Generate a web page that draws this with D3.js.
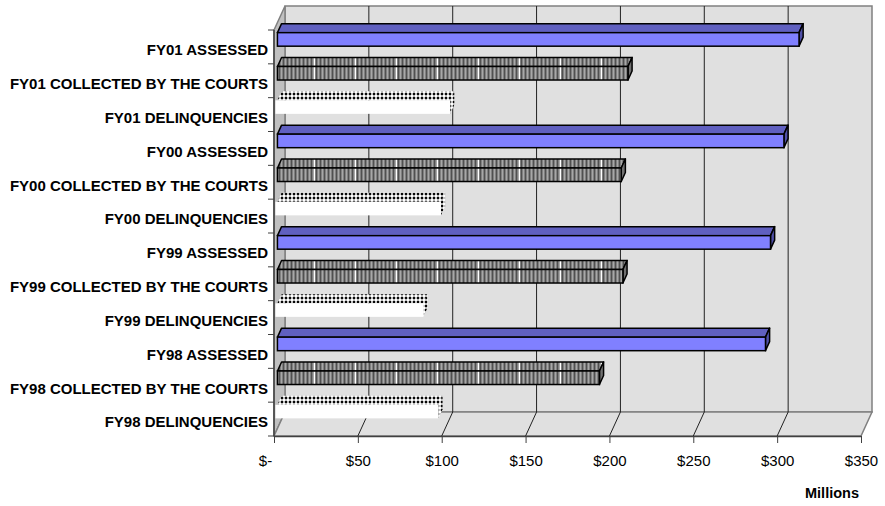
<!DOCTYPE html>
<html>
<head>
<meta charset="utf-8">
<script src="https://cdn.jsdelivr.net/npm/d3@7/dist/d3.min.js"></script>
<style>
body { margin: 0; background: #fff; }
svg { display: block; font-family: "Liberation Sans", Arial, sans-serif; }
</style>
</head>
<body>
<div id="chart"></div>
<script>
// data, $ millions
var categories = [
    "FY01 ASSESSED", "FY01 COLLECTED BY THE COURTS", "FY01 DELINQUENCIES",
    "FY00 ASSESSED", "FY00 COLLECTED BY THE COURTS", "FY00 DELINQUENCIES",
    "FY99 ASSESSED", "FY99 COLLECTED BY THE COURTS", "FY99 DELINQUENCIES",
    "FY98 ASSESSED", "FY98 COLLECTED BY THE COURTS", "FY98 DELINQUENCIES"
];
var values = [311, 209, 103, 302, 205, 97.5, 294, 206, 87, 291, 192, 96];
var kinds = ["assessed", "collected", "delinq",
             "assessed", "collected", "delinq",
             "assessed", "collected", "delinq",
             "assessed", "collected", "delinq"];
var xTicks = [0, 50, 100, 150, 200, 250, 300, 350];
var xTitle = "Millions";

var width = 885, height = 506;
var plot = { left: 274, right: 861, top: 30, bottom: 436 };
var depth = { dx: 11, dy: 24 };      // offset from front plane to back wall
var barDepth = [0.3125, 0.6875];     // bar sits in the middle of the depth

var svg = d3.select("#chart").append("svg")
    .attr("width", width)
    .attr("height", height);

var x = d3.scaleLinear().domain([0, 350]).range([plot.left, plot.right]);
var yCat = d3.scaleBand().domain(categories).range([plot.top, plot.bottom]);
var yBar = d3.scaleBand().domain(categories).range([plot.top, plot.bottom])
    .paddingInner(0.6).paddingOuter(0.3);

function proj(px, py, t) {
    return [px + t * depth.dx, py - t * depth.dy];
}
function poly(pts) {
    return pts.map(function (p) { return p[0] + "," + p[1]; }).join(" ");
}

// patterns
var defs = svg.append("defs");
var stripes = defs.append("pattern")
    .attr("id", "stripes")
    .attr("patternUnits", "userSpaceOnUse")
    .attr("x", 27).attr("width", 41).attr("height", 8);
stripes.append("rect").attr("width", 41).attr("height", 8).attr("fill", "#808080");
for (var s = 0; s < 41; s += 4) {
    stripes.append("rect").attr("x", s).attr("width", 1).attr("height", 8).attr("fill", "#a8a8a8");
    stripes.append("rect").attr("x", s + 2).attr("width", 1).attr("height", 8).attr("fill", "#505050");
}
stripes.append("rect").attr("x", 0).attr("width", 1).attr("height", 8).attr("fill", "#ffffff");

var dots = defs.append("pattern")
    .attr("id", "dots")
    .attr("patternUnits", "userSpaceOnUse")
    .attr("width", 4).attr("height", 4);
dots.append("rect").attr("width", 4).attr("height", 4).attr("fill", "#ffffff");
dots.append("polygon").attr("points", "2,0.3 3.7,2 2,3.7 0.3,2").attr("fill", "#000000");

// walls and floor
var backX0 = plot.left + depth.dx, backX1 = plot.right + depth.dx;
var backY0 = plot.top - depth.dy, backY1 = plot.bottom - depth.dy;

svg.append("rect")
    .attr("x", backX0).attr("y", backY0)
    .attr("width", backX1 - backX0).attr("height", backY1 - backY0)
    .attr("fill", "#e0e0e0").attr("stroke", "#808080").attr("stroke-width", 1.5);

svg.append("polygon")
    .attr("points", poly([[plot.left, plot.top], [backX0, backY0], [backX0, backY1], [plot.left, plot.bottom]]))
    .attr("fill", "#c0c0c0").attr("stroke", "#808080").attr("stroke-width", 1.5);

svg.append("polygon")
    .attr("points", poly([[plot.left, plot.bottom], [backX0, backY1], [backX1, backY1], [plot.right, plot.bottom]]))
    .attr("fill", "#e0e0e0").attr("stroke", "#808080").attr("stroke-width", 1.5);

// gridlines on back wall and floor
var inner = xTicks.slice(1, -1);
svg.selectAll(".grid").data(inner).enter().append("line")
    .attr("class", "grid")
    .attr("x1", function (d) { return x(d) + depth.dx; })
    .attr("x2", function (d) { return x(d) + depth.dx; })
    .attr("y1", backY0).attr("y2", backY1)
    .attr("stroke", "#222").attr("stroke-width", 1);

svg.selectAll(".floorgrid").data(inner).enter().append("line")
    .attr("class", "floorgrid")
    .attr("x1", function (d) { return x(d) + depth.dx; })
    .attr("y1", backY1)
    .attr("x2", function (d) { return x(d); })
    .attr("y2", plot.bottom)
    .attr("stroke", "#222").attr("stroke-width", 1);

// bars
var style = {
    assessed:  { front: "#8080ff", top: "#6060c0", end: "#5050a8", stroke: "#000" },
    collected: { front: "url(#stripes)", top: "url(#stripes)", end: "#707070", stroke: "#000" },
    delinq:    { front: "#ffffff", top: "url(#dots)", end: "url(#dots)", stroke: "none" }
};

categories.forEach(function (c, i) {
    var st = style[kinds[i]];
    var x0 = x(0), x1 = x(values[i]);
    var y0 = yBar(c), y1 = yBar(c) + yBar.bandwidth();
    var tf = barDepth[0], tb = barDepth[1];
    var g = svg.append("g").attr("class", "bar");

    g.append("polygon")
        .attr("points", poly([proj(x0, y0, tf), proj(x1, y0, tf), proj(x1, y0, tb), proj(x0, y0, tb)]))
        .attr("fill", st.top).attr("stroke", st.stroke).attr("stroke-width", 1.5)
        .attr("stroke-linejoin", "round");
    g.append("polygon")
        .attr("points", poly([proj(x1, y0, tf), proj(x1, y0, tb), proj(x1, y1, tb), proj(x1, y1, tf)]))
        .attr("fill", st.end).attr("stroke", st.stroke).attr("stroke-width", 1.5)
        .attr("stroke-linejoin", "round");
    var p = proj(kinds[i] == "delinq" ? x0 - 2 : x0, y0, tf);
    g.append("rect")
        .attr("x", p[0]).attr("y", p[1])
        .attr("width", proj(x1, y0, tf)[0] - p[0]).attr("height", y1 - y0)
        .attr("fill", st.front).attr("stroke", st.stroke).attr("stroke-width", 1.5);
});

// left axis
svg.append("line")
    .attr("x1", plot.left).attr("x2", plot.left)
    .attr("y1", plot.top).attr("y2", plot.bottom)
    .attr("stroke", "#404040").attr("stroke-width", 1.5);

var bounds = categories.map(function (c) { return yCat(c); }).concat([plot.bottom]);
svg.selectAll(".ytick").data(bounds).enter().append("line")
    .attr("class", "ytick")
    .attr("x1", plot.left - 6).attr("x2", plot.left)
    .attr("y1", function (d) { return d; }).attr("y2", function (d) { return d; })
    .attr("stroke", "#404040").attr("stroke-width", 1);

var yAxis = svg.append("g")
    .attr("transform", "translate(" + plot.left + ",3.5)")
    .call(d3.axisLeft(yCat).tickSize(0).tickPadding(6));
yAxis.select(".domain").remove();
yAxis.selectAll("text")
    .attr("font-family", "Liberation Sans, Arial, sans-serif")
    .attr("font-size", "15px")
    .attr("font-weight", "bold")
    .attr("fill", "#000");

// bottom axis
var xAxis = svg.append("g")
    .attr("transform", "translate(0," + plot.bottom + ")")
    .call(d3.axisBottom(x).tickValues(xTicks).tickSize(7).tickSizeOuter(0).tickPadding(12)
        .tickFormat(function (d) { return d == 0 ? "$-" : "$" + d; }));
xAxis.select(".domain").attr("stroke", "#404040").attr("stroke-width", 1.5);
xAxis.selectAll(".tick line").attr("stroke", "#404040");
xAxis.selectAll("text")
    .attr("font-family", "Liberation Sans, Arial, sans-serif")
    .attr("font-size", "15px")
    .attr("fill", "#000");
xAxis.selectAll(".tick text").filter(function (d) { return d == 0; }).attr("dx", -9);

svg.append("text")
    .attr("x", 832).attr("y", 498)
    .attr("text-anchor", "middle")
    .attr("font-size", "14.5px")
    .attr("font-weight", "bold")
    .text(xTitle);
</script>
</body>
</html>
